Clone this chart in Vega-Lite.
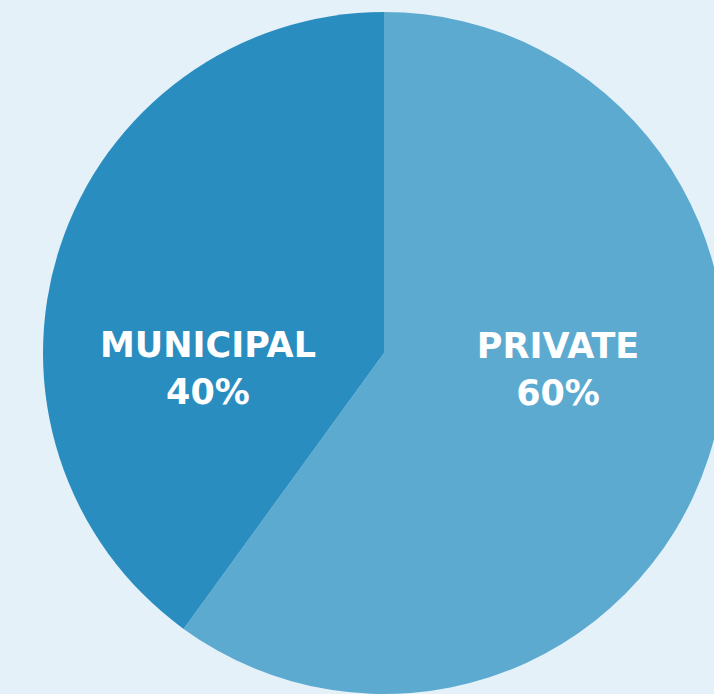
{
  "$schema": "https://vega.github.io/schema/vega-lite/v6.json",
  "width": 768,
  "height": 706,
  "autosize": {"type": "none"},
  "padding": 0,
  "background": "#E5F1F9",
  "config": {"view": {"stroke": null}},
  "data": {"values": [
    {"type": "PRIVATE", "share": 60, "label": "PRIVATE\n60%", "order": 1},
    {"type": "MUNICIPAL", "share": 40, "label": "MUNICIPAL\n40%", "order": 2}
  ]},
  "encoding": {
    "theta": {"field": "share", "type": "quantitative", "stack": true},
    "order": {"field": "order", "type": "quantitative"}
  },
  "layer": [
    {
      "mark": {"type": "arc", "outerRadius": 341},
      "encoding": {
        "color": {"field": "type", "type": "nominal", "legend": null,
          "scale": {"domain": ["PRIVATE", "MUNICIPAL"], "range": ["#5DAAD1", "#2A8DC0"]}}
      }
    },
    {
      "mark": {"type": "text", "radius": 183, "dy": -63, "dx": 0, "fill": "#FFFFFF", "font": "DejaVu Sans", "fontWeight": "bold", "fontSize": 35, "lineBreak": "\n", "lineHeight": 47, "align": "center", "baseline": "middle"},
      "encoding": {"text": {"condition": {"test": "datum.type === 'PRIVATE'", "field": "label"}, "value": ""}}
    },
    {
      "mark": {"type": "text", "radius": 183, "dy": 50, "dx": -2, "fill": "#FFFFFF", "font": "DejaVu Sans", "fontWeight": "bold", "fontSize": 35, "lineBreak": "\n", "lineHeight": 47, "align": "center", "baseline": "middle"},
      "encoding": {"text": {"condition": {"test": "datum.type === 'MUNICIPAL'", "field": "label"}, "value": ""}}
    }
  ]
}
